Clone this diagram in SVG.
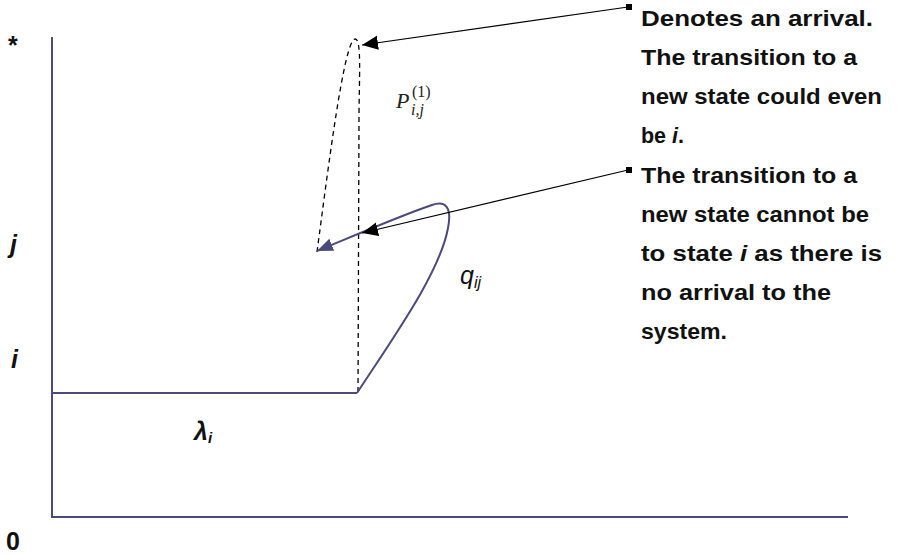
<svg xmlns="http://www.w3.org/2000/svg" width="898" height="557" viewBox="0 0 898 557">
<style>
.ax{stroke:#4b4a7c;stroke-width:2;fill:none}
.dash{stroke:#000;stroke-width:1.3;fill:none;stroke-dasharray:5 4}
.ptr{stroke:#000;stroke-width:1.2;fill:none}
.lbl{font-family:"Liberation Sans",Arial,sans-serif;font-weight:bold;font-size:25px;fill:#111}
.note{font-family:"Liberation Sans",Arial,sans-serif;font-weight:bold;font-size:21.5px;fill:#111}
.math{font-family:"Liberation Serif","Times New Roman",serif;fill:#222}
.sans{font-family:"Liberation Sans",Arial,sans-serif;fill:#111}
</style>
<defs>
<marker id="ahB" markerUnits="userSpaceOnUse" markerWidth="20" markerHeight="16" refX="16" refY="7" orient="auto">
<path d="M0,0 L16,7 L0,14 Z" fill="#000"/>
</marker>
<marker id="ahP" markerUnits="userSpaceOnUse" markerWidth="20" markerHeight="16" refX="16" refY="6.5" orient="auto">
<path d="M0,0 L16,6.5 L0,13 Z" fill="#4b4a7c"/>
</marker>
</defs>
<g id="axes">
<line class="ax" x1="52" y1="37" x2="52" y2="518"/>
<line class="ax" x1="51" y1="517" x2="848" y2="517"/>
</g>
<g id="axis-labels">
<text class="lbl" x="8" y="54">*</text>
<text class="lbl" x="10" y="253" font-style="italic">j</text>
<text class="lbl" x="11" y="368" font-style="italic">i</text>
<text class="lbl" x="6" y="550">0</text>
</g>
<g id="state-i">
<line class="ax" x1="52" y1="393" x2="357" y2="393"/>
<text class="sans" x="194" y="440" font-size="25" font-style="italic" font-weight="bold">λ<tspan font-size="15" dy="3">i</tspan></text>
</g>
<g id="connectors">
<path id="arrival" class="dash" d="M317,252 C328,170 344,40 355,39 C362,38 359,80 359,120 L358,393"/>
<path id="service" class="ax" d="M357,393 C395,335 440,272 448,228 C452,208 446,200 432,205 C405,214 370,229 317,251" marker-end="url(#ahP)"/>
<line class="ptr" x1="628" y1="7" x2="362" y2="45" marker-end="url(#ahB)"/>
<line class="ptr" x1="628" y1="170" x2="362" y2="233" marker-end="url(#ahB)"/>
<rect x="626" y="4" width="6" height="6" fill="#000"/>
<rect x="626" y="167" width="6" height="6" fill="#000"/>
</g>
<g id="label-p">
<text class="math" x="396" y="108" font-size="22" font-style="italic">P</text>
<text class="math" x="412" y="97" font-size="16">(1)</text>
<text class="math" x="411" y="115" font-size="16" font-style="italic">i,j</text>
</g>
<g id="label-q">
<text class="sans" x="460" y="284" font-size="25" font-style="italic">q<tspan font-size="16" dy="4">ij</tspan></text>
</g>
<g id="note1">
<text class="note" x="641" y="26" textLength="232" lengthAdjust="spacingAndGlyphs">Denotes an arrival.</text>
<text class="note" x="641" y="65" textLength="216" lengthAdjust="spacingAndGlyphs">The transition to a</text>
<text class="note" x="641" y="104" textLength="241" lengthAdjust="spacingAndGlyphs">new state could even</text>
<text class="note" x="641" y="143" textLength="43" lengthAdjust="spacingAndGlyphs">be <tspan font-style="italic">i</tspan>.</text>
</g>
<g id="note2">
<text class="note" x="641" y="183" textLength="216" lengthAdjust="spacingAndGlyphs">The transition to a</text>
<text class="note" x="641" y="222" textLength="228" lengthAdjust="spacingAndGlyphs">new state cannot be</text>
<text class="note" x="641" y="261" textLength="241" lengthAdjust="spacingAndGlyphs">to state <tspan font-style="italic">i</tspan> as there is</text>
<text class="note" x="641" y="300" textLength="190" lengthAdjust="spacingAndGlyphs">no arrival to the</text>
<text class="note" x="641" y="339" textLength="86" lengthAdjust="spacingAndGlyphs">system.</text>
</g>
</svg>
